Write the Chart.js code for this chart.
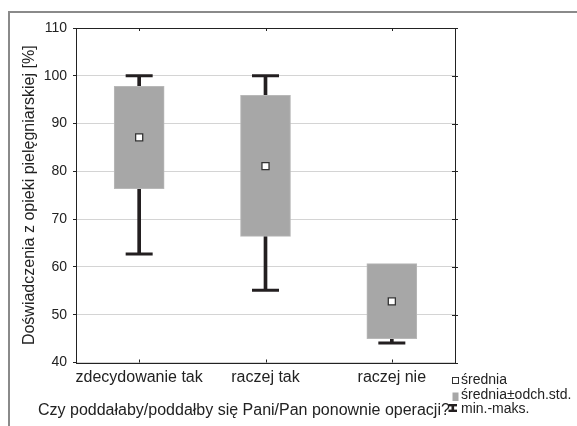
<!DOCTYPE html>
<html>
<head>
<meta charset="utf-8">
<script src="https://cdn.jsdelivr.net/npm/chart.js@4.4.1/dist/chart.umd.min.js"></script>
<style>
  html, body { margin: 0; padding: 0; background: #fff; overflow: hidden; }
  canvas { display: block; }
</style>
</head>
<body>
<canvas id="c" width="577" height="426"></canvas>
<script>
// ---- data ----
const categories = ['zdecydowanie tak', 'raczej tak', 'raczej nie'];
const means  = [87.1, 81.1, 52.8];
const sdLow  = [76.4, 66.4, 45.0];
const sdHigh = [97.8, 95.9, 60.7];
const mins   = [62.7, 55.1, 44.1];
const maxs   = [100.0, 100.0, 58.0];
const yTicks = [40, 50, 60, 70, 80, 90, 100, 110];

const yTitle = 'Doświadczenia z opieki pielęgniarskiej [%]';
const xTitle = 'Czy poddałaby/poddałby się Pani/Pan ponownie operacji?';
const legendLabels = ['średnia', 'średnia±odch.std.', 'min.-maks.'];

const FONT = "'Liberation Sans', Arial, sans-serif";
const DARK = '#231f20';
const BOXC = '#a7a7a7';

const boxRanges = categories.map((c, i) => [sdLow[i], sdHigh[i]]);
const whiskerRanges = categories.map((c, i) => [mins[i], maxs[i]]);

const extras = {
  id: 'extras',
  beforeDraw(chart) {
    const ctx = chart.ctx;
    ctx.save();
    // outer picture frame (left and top edges only visible)
    ctx.strokeStyle = '#8a8a8a';
    ctx.lineWidth = 2;
    ctx.beginPath();
    ctx.moveTo(9, chart.height);
    ctx.lineTo(9, 12);
    ctx.lineTo(chart.width, 12);
    ctx.stroke();
    ctx.restore();
  },
  afterDraw(chart) {
    const ctx = chart.ctx;
    const a = chart.chartArea;
    ctx.save();
    // plot frame
    ctx.strokeStyle = '#222';
    ctx.lineWidth = 1;
    ctx.strokeRect(Math.round(a.left) + 0.5, Math.round(a.top) + 0.5,
                   Math.round(a.right - a.left), Math.round(a.bottom - a.top));
    // small tick marks on the right side and x ticks
    const ys = chart.scales.y;
    yTicks.forEach(v => {
      const py = Math.round(ys.getPixelForValue(v)) + 0.5;
      ctx.beginPath();
      ctx.moveTo(a.right - 3, py); ctx.lineTo(a.right + 3, py);
      ctx.stroke();
    });
    const xs = chart.scales.x;
    categories.forEach((c, i) => {
      const px = Math.round(xs.getPixelForValue(i)) + 0.5;
      ctx.beginPath();
      ctx.moveTo(px, a.bottom - 3); ctx.lineTo(px, a.bottom);
      ctx.moveTo(px, a.top); ctx.lineTo(px, a.top + 3);
      ctx.stroke();
    });
    // x axis title
    ctx.fillStyle = '#222';
    ctx.font = '16px ' + FONT;
    ctx.textBaseline = 'alphabetic';
    ctx.textAlign = 'left';
    ctx.fillText(xTitle, 38, 415);
    // legend
    ctx.font = '14px ' + FONT;
    const lx = 461;
    ctx.fillStyle = '#fff';
    ctx.strokeStyle = '#333';
    ctx.lineWidth = 1;
    ctx.fillRect(452.5, 377.5, 6, 6);
    ctx.strokeRect(452.5, 377.5, 6, 6);
    ctx.fillStyle = '#222';
    ctx.fillText(legendLabels[0], lx, 384);
    ctx.fillStyle = BOXC;
    ctx.fillRect(452.5, 392.5, 6, 8.5);
    ctx.fillStyle = '#222';
    ctx.fillText(legendLabels[1], lx, 399);
    ctx.fillStyle = DARK;
    ctx.fillRect(448.5, 404, 8.5, 2.4);
    ctx.fillRect(451.5, 404, 2.6, 8);
    ctx.fillRect(448.5, 409.6, 8.5, 2.4);
    ctx.fillStyle = '#222';
    ctx.fillText(legendLabels[2], lx, 413);
    ctx.restore();
  }
};

new Chart(document.getElementById('c'), {
  type: 'bar',
  data: {
    labels: categories,
    datasets: [
      {
        type: 'line', label: 'średnia', data: means, order: 0,
        showLine: false, pointStyle: 'rect', pointRadius: 5, pointHoverRadius: 5,
        pointBackgroundColor: '#fff', pointBorderColor: '#333', pointBorderWidth: 1.3
      },
      {
        type: 'bar', label: 'średnia±odch.std.', data: boxRanges, order: 1,
        backgroundColor: BOXC, borderColor: '#b8b8b8', borderWidth: 1,
        borderSkipped: false, barThickness: 50, grouped: false
      },
      {
        type: 'line', label: 'max', data: maxs, order: 2,
        showLine: false, pointStyle: 'line', pointRadius: 13.5, pointHoverRadius: 13.5,
        pointBorderColor: DARK, pointBorderWidth: 3
      },
      {
        type: 'line', label: 'min', data: mins, order: 2,
        showLine: false, pointStyle: 'line', pointRadius: 13.5, pointHoverRadius: 13.5,
        pointBorderColor: DARK, pointBorderWidth: 3
      },
      {
        type: 'bar', label: 'min.-maks.', data: whiskerRanges, order: 3,
        backgroundColor: DARK, borderWidth: 0, barThickness: 3, grouped: false
      }
    ]
  },
  options: {
    responsive: false,
    animation: false,
    events: [],
    layout: { padding: { left: 0, top: 28, right: 122, bottom: 0 } },
    plugins: { legend: { display: false }, tooltip: { enabled: false }, title: { display: false } },
    scales: {
      x: {
        type: 'category',
        offset: true,
        grid: { display: false, drawTicks: false },
        border: { display: false },
        ticks: { color: '#222', font: { family: FONT, size: 16 }, padding: 5, maxRotation: 0, autoSkip: false },
        afterFit(s) { s.height = 63.5; }
      },
      y: {
        min: 40, max: 110,
        afterBuildTicks(s) { s.ticks = yTicks.map(v => ({ value: v })); },
        grid: {
          color: '#d4d4d4', borderDash: [1, 2], drawTicks: true, tickLength: 3,
          tickColor: '#222', tickBorderDash: [], tickWidth: 1
        },
        border: { display: false },
        ticks: { color: '#222', font: { family: FONT, size: 14 }, padding: 6 },
        title: {
          display: true, text: yTitle, color: '#222',
          font: { family: FONT, size: 16 }, padding: { top: 19.5, bottom: 0 }
        },
        afterFit(s) { s.width = 76; }
      }
    }
  },
  plugins: [extras]
});
</script>
</body>
</html>
